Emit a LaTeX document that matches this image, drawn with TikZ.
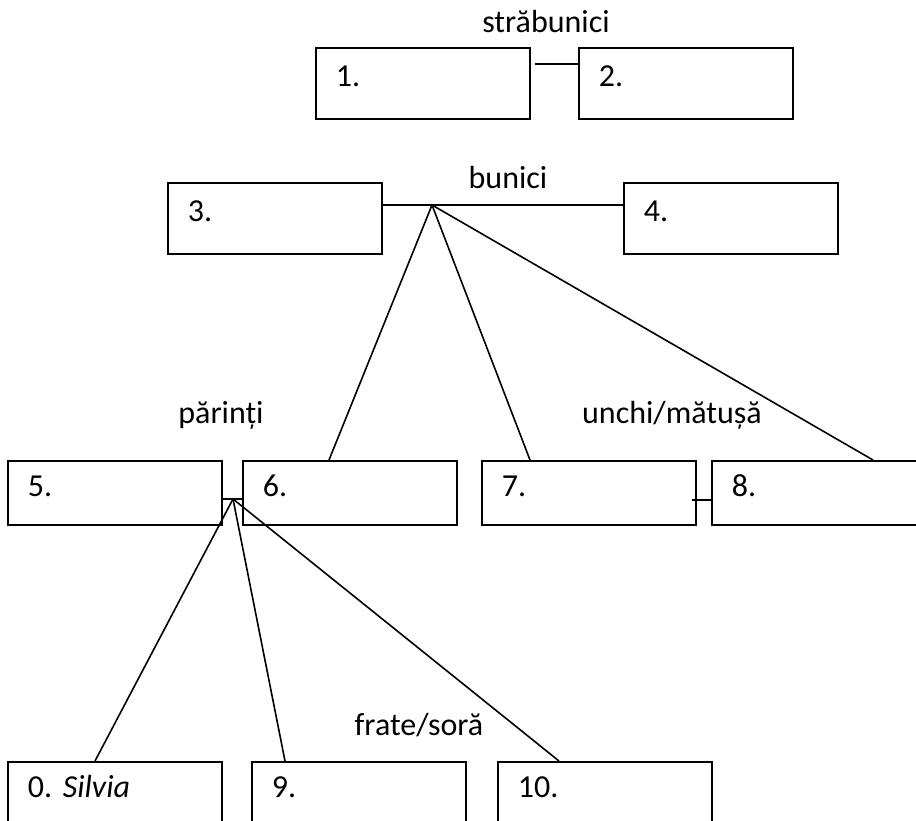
\documentclass[tikz,border=0pt]{standalone}
\usepackage{fontspec}
\setmainfont{Carlito}
\begin{document}
\begin{tikzpicture}[x=1pt, y=-1pt,
		box/.style={draw, rectangle, line width=1.8pt, anchor=north west, minimum height=71pt,
			text width=174pt, align=left, inner xsep=20pt, inner ysep=0pt,
			text height=20pt, text depth=13pt, font=\fontsize{32}{36}\selectfont},
		lowbox/.style={box, minimum height=64pt},
		heading/.style={anchor=base, inner sep=0pt, font=\fontsize{32}{36}\selectfont},
		link/.style={line width=1.6pt}]
			\clip (0,0) rectangle (916,821);

			\node [box] (b1) at (315,47) {1.};
			\node [box] (b2) at (578,47) {2.};
			\node [box] (b3) at (167,182) {3.};
			\node [box] (b4) at (623,182) {4.};
			\node [lowbox] (b5) at (7,460) {5.};
			\node [lowbox] (b6) at (242,460) {6.};
			\node [lowbox] (b7) at (481,460) {7.};
			\node [lowbox] (b8) at (711,460) {8.};
			\node [lowbox] (b0) at (7,761) {0.\ \textit{Silvia}};
			\node [lowbox] (b9) at (251,761) {9.};
			\node [lowbox] (b10) at (497,761) {10.};

			\node [heading] (strab) at (546,33) {străbunici};
			\node [heading] (bun) at (508,189) {bunici};
			\node [heading] (par) at (221,423) {părinți};
			\node [heading] (unchi) at (672,423) {unchi/mătușă};
			\node [heading] (frate) at (419,735) {frate/soră};

			\coordinate (gp) at (432,205);
			\coordinate (pp) at (233,499);
			\coordinate (m12) at (535,64);

			\draw [link] (m12) -- (m12 -| b2.west);
			\draw [link] (gp -| b3.east) -- (gp -| b4.west);
			\draw [link] (gp) -- ([xshift=87pt]b6.north west);
			\draw [link] (gp) -- ([xshift=49pt]b7.north west);
			\draw [link] (gp) -- ([xshift=162pt]b8.north west);

			\draw [link] (pp -| b5.east) -- (pp -| b6.west);
			\draw [link] ([xshift=-5pt, yshift=-7pt]b7.east) -- ([yshift=-7pt]b8.west);
			\draw [link] (pp) -- ([xshift=88pt]b0.north west);
			\draw [link] (pp) -- ([xshift=34pt]b9.north west);
			\draw [link] (pp) -- ([xshift=62pt]b10.north west);
		\end{tikzpicture}
\end{document}
